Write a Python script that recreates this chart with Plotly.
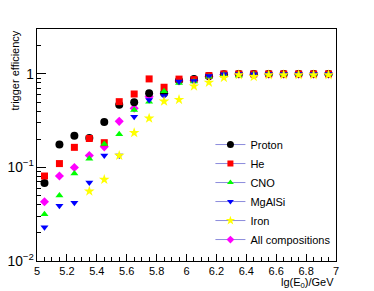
import plotly.graph_objects as go

energy = [5.05, 5.15, 5.25, 5.35, 5.45, 5.55, 5.65, 5.75, 5.85, 5.95,
          6.05, 6.15, 6.25, 6.35, 6.45, 6.55, 6.65, 6.75, 6.85, 6.95]
proton = [0.068, 0.176, 0.218, 0.206, 0.306, 0.469, 0.497, 0.621, 0.62, 0.85,
          0.88, 0.95, 0.99, 1.0, 1.0, 1.0, 1.0, 1.0, 1.0, 1.0]
helium = [0.081, 0.110, 0.164, 0.204, 0.184, 0.505, 0.61, 0.884, 0.72, 0.88,
          0.87, 0.96, 1.0, 1.0, 1.0, 1.0, 1.0, 1.0, 1.0, 1.0]
cno = [0.0316, 0.050, 0.086, 0.124, 0.178, 0.227, 0.411, 0.505, 0.652, 0.80,
       0.83, 0.93, 0.98, 0.96, 0.99, 1.0, 1.0, 1.0, 1.0, 1.0]
mgalsi = [0.023, 0.039, 0.042, 0.069, 0.134, 0.134, 0.349, 0.526, 0.58, 0.83,
          0.84, 0.95, 0.99, 1.0, 0.99, 1.0, 1.0, 1.0, 1.0, 1.0]
iron = [None, None, None, 0.0557, 0.0743, 0.134, 0.235, 0.335, 0.51, 0.53,
        0.74, 0.81, 0.91, 0.975, 0.935, 0.975, 0.975, 0.975, 0.975, 0.975]
allcomp = [0.043, 0.081, 0.100, 0.134, 0.166, 0.311, 0.429, 0.571, 0.62, 0.84,
           0.85, 0.93, 0.98, 0.99, 0.98, 0.99, 0.99, 0.99, 0.99, 0.99]

names = ["Proton", "He", "CNO", "MgAlSi", "Iron", "All compositions"]
series = [proton, helium, cno, mgalsi, iron, allcomp]
colors = ["#000000", "#ff0000", "#00ff00", "#0000ff", "#ffff00", "#ff00ff"]
symbols = ["circle", "square", "triangle-up", "triangle-down", "star", "diamond"]
sizes = [8, 7, 7, 7, 8, 7]
draw_order = [5, 0, 1, 2, 3, 4]

FONT = "Liberation Sans, Arial, sans-serif"

fig = go.Figure()
for i in draw_order:
    fig.add_trace(go.Scatter(
        x=energy, y=series[i], mode="markers", showlegend=False,
        marker=dict(color=colors[i], symbol=symbols[i], size=sizes[i], line=dict(width=0)),
    ))
for i in range(len(names)):
    fig.add_trace(go.Scatter(
        x=[None], y=[None], mode="lines+markers", name=names[i],
        line=dict(color="#8c8cdc", width=1),
        marker=dict(color=colors[i], symbol=symbols[i], size=sizes[i] - 1, line=dict(width=0)),
    ))

fig.update_layout(
    width=374, height=291,
    margin=dict(l=37, r=38, t=29, b=30),
    plot_bgcolor="white", paper_bgcolor="white",
    font=dict(family=FONT, size=11, color="#000000"),
    showlegend=True,
    legend=dict(x=0.58, y=0.03, xanchor="left", yanchor="bottom",
                bgcolor="rgba(255,255,255,0)", font=dict(size=11),
                itemwidth=30),
    xaxis=dict(range=[5, 7], dtick=0.2, tick0=5, showgrid=False, zeroline=False,
               automargin=False,
               showline=True, linecolor="#000000", linewidth=1, mirror=True,
               ticks="inside", ticklen=7, tickcolor="#000000",
               minor=dict(dtick=0.05, ticks="inside", ticklen=4, tickcolor="#000000", showgrid=False)),
    yaxis=dict(type="log", range=[-2, 0.48], showgrid=False, zeroline=False,
               automargin=False, dtick=1, exponentformat="power",
               showline=True, linecolor="#000000", linewidth=1, mirror=True,
               ticks="inside", ticklen=9, tickcolor="#000000",
               minor=dict(dtick="D1", ticks="inside", ticklen=4, tickcolor="#000000", showgrid=False)),
    annotations=[
        dict(text="lg(E<sub>0</sub>)/GeV", xref="paper", yref="paper", x=1.0, y=-0.058,
             xanchor="right", yanchor="top", showarrow=False, font=dict(size=11)),
        dict(text="trigger efficiency", xref="paper", yref="paper", x=-0.075, y=1.0,
             xanchor="center", yanchor="top", textangle=-90, showarrow=False, font=dict(size=11)),
    ],
)

fig.write_html("out.html", post_script="document.body.style.margin='0';",
               config={"displayModeBar": False})
